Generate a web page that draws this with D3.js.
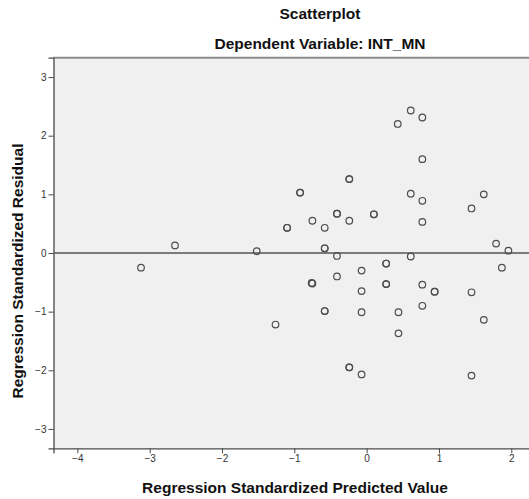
<!DOCTYPE html>
<html>
<head>
<meta charset="utf-8">
<script src="https://cdn.jsdelivr.net/npm/d3@7"></script>
<style>
  html, body { margin: 0; padding: 0; background: #ffffff; }
  svg { display: block; }
  text { font-family: "Liberation Sans", Arial, sans-serif; }
</style>
</head>
<body>
<svg id="chart" width="529" height="499"></svg>
<script>
// ---- Data ----
const title = "Scatterplot";
const subtitle = "Dependent Variable: INT_MN";
const xLabel = "Regression Standardized Predicted Value";
const yLabel = "Regression Standardized Residual";

const predicted = [
  -3.12, -2.65, -1.52, -1.26, -1.10, -1.10,
   0.61,  0.77,  0.43,  0.77, -0.24, -0.24,
  -0.92, -0.92,  0.61,  1.62,  0.77,  1.45,
  -0.41, -0.41,  0.10,  0.10, -0.75, -0.24,
   0.77, -0.58,  1.79,  1.96, -0.58, -0.58,
  -0.41,  0.61,  1.87,  0.27,  0.27, -0.07,
  -0.41, -0.76, -0.75, -0.07,  0.27,  0.27,
   0.77,  0.94,  0.94,  1.45, -0.58, -0.58,
  -0.07,  0.44,  0.77,  1.62,  0.44, -0.24,
  -0.24, -0.07,  1.45
];
const residual = [
  -0.25,  0.13,  0.03, -1.22,  0.43,  0.43,
   2.43,  2.31,  2.20,  1.60,  1.26,  1.26,
   1.03,  1.03,  1.01,  1.00,  0.89,  0.76,
   0.67,  0.67,  0.66,  0.66,  0.55,  0.55,
   0.53,  0.43,  0.16,  0.04,  0.08,  0.08,
  -0.05, -0.06, -0.25, -0.18, -0.18, -0.30,
  -0.40, -0.51, -0.52, -0.65, -0.53, -0.53,
  -0.54, -0.66, -0.66, -0.67, -0.99, -0.99,
  -1.01, -1.01, -0.90, -1.14, -1.37, -1.95,
  -1.95, -2.07, -2.09
];
const xTicks = [-4, -3, -2, -1, 0, 1, 2];
const yTicks = [-3, -2, -1, 0, 1, 2, 3];
const xDomain = [-4.33, 3.04];
const yDomain = [-3.33, 3.33];

// ---- Layout ----
const plot = { left: 53.5, right: 586.5, top: 57.7, bottom: 448.3 };
const svg = d3.select("#chart");

const x = d3.scaleLinear().domain(xDomain).range([plot.left, plot.right]);
const y = d3.scaleLinear().domain(yDomain).range([plot.bottom, plot.top]);

// Titles
const cx = (plot.left + plot.right) / 2;
svg.append("text").attr("x", cx).attr("y", 19).attr("text-anchor", "middle")
  .attr("font-size", 15.5).attr("font-weight", "bold").attr("fill", "#111").text(title);
svg.append("text").attr("x", cx).attr("y", 49).attr("text-anchor", "middle")
  .attr("font-size", 15.5).attr("font-weight", "bold").attr("fill", "#111").text(subtitle);

// Plot background
svg.append("rect")
  .attr("x", plot.left).attr("y", plot.top)
  .attr("width", plot.right - plot.left).attr("height", plot.bottom - plot.top)
  .attr("fill", "#f0f0f0");
// top frame line
svg.append("line")
  .attr("x1", plot.left).attr("x2", plot.right)
  .attr("y1", plot.top).attr("y2", plot.top)
  .attr("stroke", "#8c8c8c").attr("stroke-width", 2);

// Axes
const xAxis = d3.axisBottom(x).tickValues(xTicks).tickSize(5).tickPadding(2)
  .tickFormat(d3.format("d"));
const yAxis = d3.axisLeft(y).tickValues(yTicks).tickSize(5).tickPadding(2)
  .tickFormat(d3.format("d"));

const gx = svg.append("g").attr("transform", `translate(0,${plot.bottom})`).call(xAxis);
const gy = svg.append("g").attr("transform", `translate(${plot.left},0)`).call(yAxis);
[gx, gy].forEach(g => {
  g.select(".domain").attr("stroke", "#4a4a4a").attr("stroke-width", 1.3);
  g.selectAll(".tick line").attr("stroke", "#4a4a4a").attr("stroke-width", 1);
  g.selectAll(".tick text").attr("font-size", 10).attr("fill", "#333")
    .attr("font-family", "\"Liberation Sans\", Arial, sans-serif");
});

// Reference line at residual 0
svg.append("line")
  .attr("x1", plot.left).attr("x2", plot.right)
  .attr("y1", y(0)).attr("y2", y(0))
  .attr("stroke", "#555").attr("stroke-width", 1.4);

// Points
const pts = predicted.map((p, i) => ({ p, r: residual[i] }));
svg.append("g").selectAll("circle").data(pts).join("circle")
  .attr("cx", d => x(d.p)).attr("cy", d => y(d.r)).attr("r", 3.3)
  .attr("fill", "none").attr("stroke", "#4d4d4d").attr("stroke-width", 1.2);

// Axis labels
svg.append("text").attr("x", 295).attr("y", 493).attr("text-anchor", "middle")
  .attr("font-size", 15.5).attr("font-weight", "bold").attr("fill", "#111").text(xLabel);
svg.append("text").attr("transform", `translate(23,${(plot.top + plot.bottom) / 2 + 18}) rotate(-90)`)
  .attr("text-anchor", "middle")
  .attr("font-size", 15.5).attr("font-weight", "bold").attr("fill", "#111").text(yLabel);
</script>
</body>
</html>
